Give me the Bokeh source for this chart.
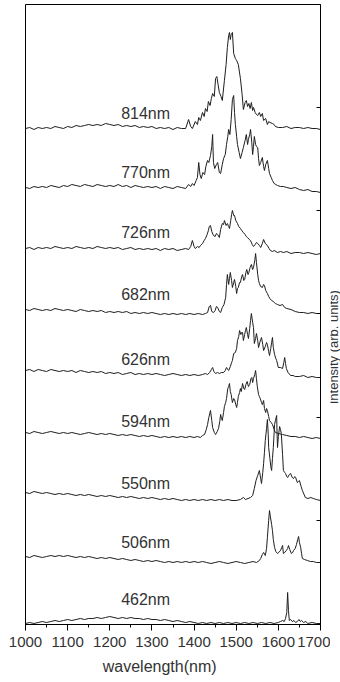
import math
from bokeh.plotting import figure
from bokeh.layouts import row
from bokeh.models import Range1d, Label, SingleIntervalTicker, FixedTicker
from bokeh.core.properties import value
from bokeh.embed import file_html
from bokeh.resources import INLINE

# ---- data: (wavelength nm, stacked intensity arb. units) ----
spec_814 = [(1000,496),(1010,497),(1020,495),(1030,497),(1040,496),(1050,497),(1060,496),(1070,498),(1080,497),(1090,496),
            (1100,498),(1110,497),(1120,499),(1130,498),(1140,499),(1150,500),(1160,499),(1170,500),(1180,499),(1190,501),
            (1200,500),(1210,499),(1220,500),(1230,498),(1240,499),(1250,498),(1260,499),(1270,497),(1280,498),(1290,497),
            (1300,498),(1310,496),(1320,497),(1330,496),(1340,497),(1350,495),(1360,497),(1370,496),(1380,496),(1387,505),
            (1392,498),(1396,496),(1403,503),(1408,500),(1411,507),(1415,504),(1420,512),(1424,508),(1427,516),(1431,513),
            (1434,523),(1438,519),(1441,526),(1444,531),(1448,528),(1451,546),(1454,548),(1457,540),(1460,532),(1464,528),
            (1467,524),(1472,544),(1476,560),(1479,577),(1482,589),(1484,592),(1486,585),(1488,590),(1491,592),(1494,571),
            (1498,566),(1501,564),(1505,560),(1510,546),(1514,530),(1517,515),(1521,522),(1524,524),(1527,518),(1530,521),
            (1533,516),(1536,522),(1539,514),(1541,517),(1545,512),(1548,510),(1551,509),(1555,512),(1558,508),(1562,511),
            (1565,504),(1570,506),(1574,500),(1577,503),(1580,502),(1586,501),(1590,500),(1593,498),(1600,497),(1610,497),
            (1620,498),(1630,496),(1640,497),(1650,497),(1660,496),(1670,497),(1680,496),(1690,496),(1700,495)]

spec_770 = [(1000,437),(1010,436),(1020,438),(1030,437),(1040,438),(1050,437),(1060,439),(1070,438),(1080,437),(1090,439),
            (1100,438),(1110,440),(1120,439),(1130,438),(1140,440),(1150,439),(1160,438),(1170,440),(1180,439),(1190,438),
            (1200,439),(1210,438),(1220,440),(1230,438),(1240,439),(1250,437),(1260,439),(1270,438),(1280,437),(1290,438),
            (1300,437),(1310,438),(1320,436),(1330,438),(1340,437),(1350,436),(1360,438),(1370,437),(1380,436),(1387,440),
            (1392,438),(1396,441),(1400,439),(1405,444),(1408,447),(1411,462),(1414,450),(1417,446),(1421,452),(1425,450),
            (1428,458),(1432,464),(1435,462),(1439,469),(1442,478),(1444,490),(1446,462),(1449,456),(1453,460),(1456,462),
            (1460,452),(1463,451),(1467,460),(1470,466),(1474,470),(1477,480),(1480,488),(1482,495),(1485,490),(1488,505),
            (1491,525),(1494,529),(1496,512),(1498,500),(1501,488),(1503,480),(1507,472),(1510,466),(1514,472),(1517,477),
            (1521,484),(1524,490),(1527,480),(1529,485),(1532,490),(1534,495),(1537,482),(1539,470),(1541,478),(1543,488),
            (1546,480),(1548,478),(1551,477),(1553,466),(1555,459),(1558,462),(1562,467),(1565,458),(1567,454),(1570,460),
            (1574,464),(1577,456),(1579,451),(1583,447),(1586,444),(1590,441),(1594,440),(1598,439),(1605,438),(1612,438),
            (1620,437),(1630,436),(1640,437),(1650,435),(1660,434),(1670,435),(1680,433),(1690,433),(1700,432)]

spec_726 = [(1000,376),(1010,377),(1020,375),(1030,377),(1040,376),(1050,377),(1060,376),(1070,378),(1080,377),(1090,376),
            (1100,377),(1110,376),(1120,378),(1130,377),(1140,376),(1150,377),(1160,376),(1170,378),(1180,377),(1190,376),
            (1200,377),(1210,376),(1220,377),(1230,375),(1240,376),(1250,377),(1260,375),(1270,376),(1280,375),(1290,376),
            (1300,375),(1310,376),(1320,374),(1330,376),(1340,375),(1350,376),(1360,374),(1370,375),(1380,376),(1387,375),
            (1392,378),(1396,384),(1400,378),(1403,376),(1408,378),(1412,377),(1415,379),(1420,381),(1424,384),(1427,386),
            (1431,390),(1434,394),(1436,398),(1439,399),(1442,393),(1446,389),(1450,388),(1453,391),(1456,390),(1460,387),
            (1463,395),(1467,401),(1470,400),(1472,404),(1476,399),(1479,401),(1482,398),(1484,396),(1487,404),(1489,410),
            (1491,414),(1494,409),(1496,409),(1499,404),(1503,401),(1506,398),(1510,396),(1513,394),(1517,392),(1521,390),
            (1524,388),(1527,387),(1531,385),(1534,384),(1538,380),(1541,378),(1545,380),(1548,382),(1551,381),(1555,379),
            (1558,377),(1562,381),(1565,385),(1569,381),(1574,379),(1578,376),(1581,374),(1586,373),(1590,374),(1598,372),
            (1605,373),(1612,372),(1620,373),(1630,371),(1640,372),(1650,372),(1660,371),(1670,372),(1680,371),(1690,370),
            (1700,371)]

spec_682 = [(1000,315),(1010,314),(1020,316),(1030,315),(1040,314),(1050,315),(1060,314),(1070,316),(1080,315),(1090,314),
            (1100,315),(1110,314),(1120,313),(1130,315),(1140,314),(1150,313),(1160,314),(1170,313),(1180,314),(1190,312),
            (1200,313),(1210,312),(1220,313),(1230,312),(1240,313),(1250,311),(1260,312),(1270,311),(1280,312),(1290,311),
            (1300,312),(1310,311),(1320,310),(1330,311),(1340,310),(1350,311),(1360,310),(1370,311),(1380,310),(1390,311),
            (1400,310),(1410,311),(1420,310),(1427,311),(1432,312),(1436,318),(1439,319),(1442,313),(1446,312),(1450,314),
            (1453,318),(1456,317),(1460,313),(1463,312),(1467,317),(1471,320),(1475,327),(1477,340),(1479,350),(1482,340),
            (1484,346),(1486,352),(1489,344),(1491,337),(1494,342),(1496,345),(1499,338),(1501,331),(1503,336),(1505,337),
            (1508,342),(1510,342),(1513,348),(1515,350),(1518,344),(1520,345),(1523,352),(1525,355),(1528,350),(1530,352),
            (1533,357),(1536,360),(1539,355),(1541,357),(1544,364),(1546,371),(1548,362),(1551,350),(1553,344),(1555,341),
            (1558,338),(1562,337),(1565,340),(1567,339),(1570,334),(1574,331),(1577,328),(1580,326),(1584,324),(1588,323),
            (1593,321),(1598,320),(1604,319),(1610,320),(1615,317),(1620,316),(1630,315),(1640,313),(1650,312),(1660,312),
            (1670,311),(1680,312),(1690,311),(1700,311)]

spec_626 = [(1000,254),(1010,255),(1020,253),(1030,255),(1040,254),(1050,253),(1060,255),(1070,254),(1080,253),(1090,254),
            (1100,253),(1110,254),(1120,252),(1130,254),(1140,253),(1150,252),(1160,253),(1170,252),(1180,253),(1190,251),
            (1200,252),(1210,251),(1220,252),(1230,250),(1240,251),(1250,252),(1260,250),(1270,251),(1280,250),(1290,251),
            (1300,250),(1310,251),(1320,250),(1330,249),(1340,250),(1350,251),(1360,250),(1370,249),(1380,250),(1390,249),
            (1400,250),(1410,249),(1420,250),(1427,251),(1432,250),(1437,252),(1441,255),(1444,257),(1447,253),(1451,251),
            (1456,252),(1460,251),(1465,252),(1470,252),(1474,254),(1477,257),(1480,255),(1482,254),(1486,258),(1489,262),
            (1491,264),(1494,271),(1498,272),(1501,276),(1503,284),(1506,288),(1508,294),(1511,290),(1513,292),(1515,292),
            (1517,284),(1520,290),(1522,294),(1524,297),(1527,290),(1529,286),(1532,296),(1534,304),(1536,311),(1539,302),
            (1541,297),(1543,281),(1546,286),(1548,291),(1551,284),(1553,277),(1556,282),(1558,285),(1560,287),(1563,280),
            (1565,274),(1569,278),(1572,282),(1574,280),(1577,273),(1579,269),(1582,276),(1584,282),(1586,287),(1588,277),
            (1591,270),(1594,266),(1596,264),(1600,257),(1605,257),(1610,256),(1613,262),(1615,267),(1617,261),(1619,256),
            (1623,252),(1629,249),(1635,249),(1640,248),(1650,248),(1660,249),(1670,247),(1680,248),(1690,247),(1700,247)]

spec_594 = [(1000,192),(1010,191),(1020,193),(1030,192),(1040,191),(1050,192),(1060,193),(1070,192),(1080,191),(1090,192),
            (1100,191),(1110,192),(1120,191),(1130,190),(1140,191),(1150,192),(1160,191),(1170,190),(1180,191),(1190,190),
            (1200,191),(1210,190),(1220,189),(1230,190),(1240,189),(1250,190),(1260,189),(1270,188),(1280,189),(1290,188),
            (1300,189),(1310,188),(1320,187),(1330,188),(1340,187),(1350,188),(1360,187),(1370,188),(1380,187),(1390,188),
            (1400,187),(1408,188),(1415,187),(1420,189),(1425,190),(1429,195),(1432,200),(1435,207),(1439,214),(1442,204),
            (1444,197),(1448,192),(1451,190),(1455,193),(1458,196),(1461,203),(1463,210),(1465,206),(1467,204),(1470,212),
            (1472,218),(1475,222),(1477,226),(1480,236),(1482,238),(1484,241),(1486,233),(1488,230),(1491,222),(1494,226),
            (1496,225),(1499,220),(1501,217),(1503,222),(1505,228),(1508,232),(1510,236),(1512,233),(1515,241),(1518,236),
            (1520,235),(1523,240),(1526,243),(1529,238),(1532,240),(1535,246),(1537,247),(1539,242),(1541,246),(1544,250),
            (1546,254),(1548,246),(1550,238),(1553,230),(1555,228),(1557,226),(1560,222),(1562,220),(1565,224),(1567,216),
            (1570,212),(1572,216),(1574,214),(1577,208),(1579,204),(1583,202),(1586,200),(1590,195),(1593,192),(1600,191),
            (1610,190),(1620,189),(1630,188),(1640,188),(1650,187),(1660,188),(1670,187),(1680,186),(1690,187),(1700,186)]

spec_550 = [(1000,132),(1010,131),(1020,133),(1030,132),(1040,131),(1050,132),(1060,131),(1070,130),(1080,131),(1090,130),
            (1100,131),(1110,130),(1120,129),(1130,130),(1140,129),(1150,130),(1160,129),(1170,128),(1180,129),(1190,128),
            (1200,129),(1210,128),(1220,127),(1230,128),(1240,127),(1250,128),(1260,127),(1270,126),(1280,127),(1290,126),
            (1300,127),(1310,126),(1320,125),(1330,126),(1340,125),(1350,126),(1360,125),(1370,124),(1380,125),(1390,124),
            (1400,125),(1410,124),(1420,125),(1430,124),(1440,125),(1450,124),(1460,125),(1470,124),(1480,125),(1490,124),
            (1500,124),(1510,125),(1517,127),(1522,125),(1528,126),(1534,127),(1539,129),(1543,136),(1547,144),(1551,149),
            (1555,154),(1558,146),(1560,141),(1563,152),(1565,161),(1567,172),(1569,184),(1572,196),(1574,205),(1576,190),
            (1577,177),(1580,166),(1582,158),(1584,154),(1586,166),(1588,177),(1590,192),(1591,200),(1593,204),(1596,209),
            (1597,190),(1598,177),(1600,188),(1603,198),(1605,195),(1607,191),(1610,170),(1612,154),(1615,152),(1617,151),
            (1620,148),(1622,147),(1626,150),(1629,151),(1633,147),(1636,146),(1639,148),(1641,147),(1645,142),(1648,143),
            (1650,144),(1654,138),(1657,134),(1661,130),(1664,127),(1670,126),(1677,127),(1683,126),(1690,125),(1700,124)]

spec_506 = [(1000,68),(1010,67),(1020,69),(1030,68),(1040,67),(1050,68),(1060,69),(1070,68),(1080,69),(1090,68),
            (1100,69),(1110,68),(1120,67),(1130,68),(1140,67),(1150,68),(1160,67),(1170,66),(1180,67),(1190,66),
            (1200,67),(1210,66),(1220,65),(1230,66),(1240,65),(1250,64),(1260,65),(1270,64),(1280,63),(1290,64),
            (1300,63),(1310,64),(1320,63),(1330,62),(1340,63),(1350,62),(1360,63),(1370,62),(1380,63),(1390,62),
            (1400,63),(1410,62),(1420,63),(1430,62),(1440,61),(1450,62),(1460,63),(1470,62),(1480,61),(1490,62),
            (1500,63),(1510,62),(1520,61),(1530,62),(1540,63),(1548,62),(1555,64),(1558,66),(1562,70),(1565,72),
            (1569,69),(1572,76),(1574,87),(1577,104),(1579,114),(1581,108),(1584,100),(1586,94),(1588,85),(1591,77),
            (1594,73),(1598,71),(1601,72),(1605,74),(1608,77),(1610,79),(1612,71),(1615,72),(1619,74),(1622,76),
            (1624,79),(1627,75),(1631,71),(1634,72),(1636,74),(1640,76),(1643,80),(1646,85),(1648,88),(1650,82),
            (1653,77),(1655,71),(1657,66),(1662,65),(1669,64),(1676,63),(1683,63),(1690,62),(1700,62)]

spec_462 = [(1000,1),(1010,2),(1020,1),(1030,2),(1040,3),(1050,2),(1060,3),(1070,4),(1080,3),(1090,4),
            (1100,5),(1110,4),(1120,5),(1130,6),(1140,5),(1150,6),(1160,6),(1170,7),(1180,6),(1190,7),
            (1200,8),(1210,7),(1220,6),(1230,7),(1240,6),(1250,7),(1260,6),(1270,6),(1280,5),(1290,6),
            (1300,5),(1310,5),(1320,4),(1330,5),(1340,4),(1350,3),(1360,4),(1370,3),(1380,2),(1390,3),
            (1400,2),(1410,1),(1420,2),(1430,1),(1440,2),(1450,1),(1460,2),(1470,1),(1480,2),(1490,1),
            (1500,2),(1510,1),(1520,2),(1530,1),(1540,2),(1550,1),(1560,2),(1570,1),(1580,2),(1590,1),
            (1600,2),(1605,3),(1610,4),(1614,3),(1617,6),(1620,12),(1622,32),(1624,14),(1626,4),(1629,5),
            (1633,3),(1637,4),(1641,2),(1645,3),(1649,5),(1652,3),(1655,4),(1660,2),(1665,3),(1670,1),
            (1680,2),(1690,1),(1700,1)]

spectra = [spec_814, spec_770, spec_726, spec_682, spec_626, spec_594, spec_550, spec_506, spec_462]
spectrum_names = ["814nm", "770nm", "726nm", "682nm", "626nm", "594nm", "550nm", "506nm", "462nm"]
label_y = [511, 452, 392, 330, 265, 203, 141, 82, 25]
x_ticks_interval = 100
y_ticks = [104, 207, 311, 414, 517]
x_title = "wavelength(nm)"
y_title = "Intensity (arb. units)"

FONT = "Liberation Sans"
TXT = "#333333"

p = figure(width=330, height=682, output_backend="svg", toolbar_location=None,
           x_range=Range1d(1000, 1700), y_range=Range1d(0, 620),
           y_axis_location="right",
           min_border_left=25, min_border_right=10, min_border_top=4, min_border_bottom=58)
p.background_fill_color = "white"
p.border_fill_color = "white"
p.xgrid.visible = False
p.ygrid.visible = False
p.outline_line_color = "black"
p.outline_line_width = 1
p.outline_line_alpha = 1.0

for spec in spectra:
    xs = [a for a, b in spec]
    ys = [b for a, b in spec]
    p.line(xs, ys, line_color="#1e1e1e", line_width=1)

for name, ly in zip(spectrum_names, label_y):
    p.add_layout(Label(x=1285, y=ly, text=name, text_align="center", text_baseline="middle",
                       text_font=FONT, text_font_size="16px", text_color=TXT))

xa = p.xaxis[0]
xa.ticker = SingleIntervalTicker(interval=x_ticks_interval, num_minor_ticks=2)
xa.major_tick_out = 6
xa.major_tick_in = 0
xa.minor_tick_out = 3
xa.minor_tick_in = 0
xa.major_tick_line_color = "black"
xa.minor_tick_line_color = "black"
xa.axis_line_color = "black"
xa.major_label_text_font = FONT
xa.major_label_text_font_size = "15px"
xa.major_label_text_color = TXT
xa.major_label_standoff = 6
# trailing no-break spaces shift the centred title a little left, as in the picture
xa.axis_label = x_title + "\u00a0" * 6
xa.axis_label_text_font = FONT
xa.axis_label_text_font_size = "16px"
xa.axis_label_text_font_style = "normal"
xa.axis_label_text_color = TXT
xa.axis_label_standoff = 8

ya = p.yaxis[0]
ya.ticker = FixedTicker(ticks=y_ticks)
ya.major_tick_in = 4
ya.major_tick_out = 0
ya.minor_tick_in = 0
ya.minor_tick_out = 0
ya.major_label_overrides = {t: "" for t in y_ticks}
ya.major_label_text_color = None
ya.major_label_standoff = 0
ya.axis_line_color = "black"

# narrow strip to the right holding the vertical axis title (reads bottom to top)
side = figure(width=10, height=682, output_backend="svg", toolbar_location=None,
              x_range=Range1d(0, 10), y_range=Range1d(0, 682),
              x_axis_location=None, y_axis_location=None, min_border=0)
side.grid.visible = False
side.outline_line_color = None
side.background_fill_color = "white"
side.border_fill_color = "white"
side.text(x=[2.5], y=[305], text=[y_title], angle=math.pi / 2,
          text_align="center", text_baseline="middle",
          text_font=value(FONT), text_font_size="13px", text_color=TXT)

layout = row(p, side, spacing=0)
open("out.html", "w").write(file_html(layout, INLINE))
